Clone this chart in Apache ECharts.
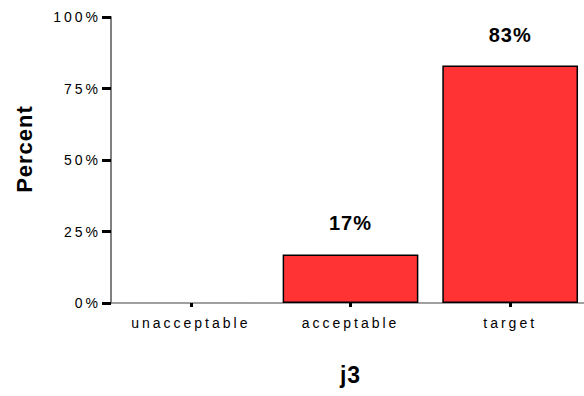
<!DOCTYPE html>
<html><head><meta charset="utf-8">
<script src="https://cdn.jsdelivr.net/npm/echarts@6/dist/echarts.min.js"></script>
<style>
html,body{margin:0;padding:0;background:#fff}
#c{width:584px;height:396px;overflow:hidden}
#c text{letter-spacing:3px}
#c text[style*="bold"]{letter-spacing:1px}
</style>
</head><body><div id="c"></div>
<script>
const categories = ['unacceptable', 'acceptable', 'target'];
const percentValues = [0, 17, 83];
const valueLabels = ['', '17%', '83%'];
const yTicks = [0, 25, 50, 75, 100];

const chart = echarts.init(document.getElementById('c'), null, { renderer: 'svg' });
chart.setOption({
  animation: false,
  textStyle: { fontFamily: 'Liberation Sans, Arial, sans-serif' },
  grid: { left: 111, width: 479, top: 17, bottom: 93, containLabel: false, outerBoundsMode: 'none' },
  xAxis: {
    type: 'category', data: categories,
    name: 'j3', nameLocation: 'middle', nameGap: 60,
    nameTextStyle: { fontSize: 23, fontWeight: 'bold', color: '#000' },
    axisLine: { lineStyle: { color: '#808080', width: 1.5 } },
    axisTick: { show: true, alignWithLabel: true, length: 4, lineStyle: { color: '#000', width: 3 } },
    axisLabel: { color: '#000', fontSize: 14, margin: 13 }
  },
  yAxis: {
    type: 'value', min: 0, max: 100, interval: 25,
    name: 'Percent', nameLocation: 'middle', nameGap: 76, nameRotate: 90,
    nameTextStyle: { fontSize: 22, fontWeight: 'bold', color: '#000', padding: [0, 0, 0, 22] },
    axisLine: { show: true, lineStyle: { color: '#808080', width: 2 } },
    axisTick: { show: true, length: 9, lineStyle: { color: '#000', width: 3 } },
    axisLabel: { color: '#000', fontSize: 14, margin: 10, formatter: v => v + '%' },
    splitLine: { show: false }
  },
  series: [{
    type: 'bar',
    data: percentValues.map(v => v === 0 ? { value: v, itemStyle: { borderWidth: 0 } } : v),
    barCategoryGap: '15%',
    itemStyle: { color: '#FF3333', borderColor: '#000', borderWidth: 1.5 },
    label: {
      show: true, position: 'top', distance: 21,
      fontSize: 20, fontWeight: 'bold', color: '#000',
      formatter: p => valueLabels[p.dataIndex]
    }
  }]
});
</script></body></html>
